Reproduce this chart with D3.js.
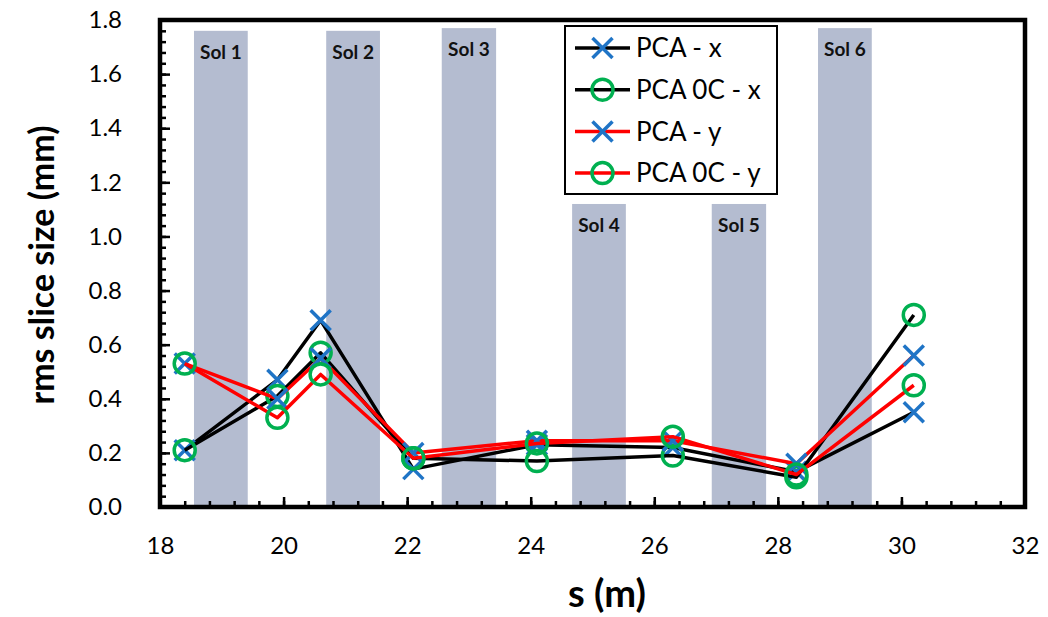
<!DOCTYPE html>
<html><head><meta charset="utf-8">
<script src="https://cdn.jsdelivr.net/npm/d3@7"></script>
<style>body{margin:0;background:#fff} text{font-family:Lato,"Noto Sans",sans-serif}</style>
</head><body><svg id="c" width="1048" height="617"></svg>
<script>
// ---- data ----
const s       = [18.4, 19.9, 20.6, 22.1, 24.1, 26.3, 28.3, 30.2];
const pcaX    = [0.21, 0.47, 0.69, 0.14, 0.23, 0.22, 0.13, 0.35];
const pca0cX  = [0.21, 0.41, 0.57, 0.18, 0.17, 0.19, 0.11, 0.71];
const pcaY    = [0.53, 0.40, 0.55, 0.20, 0.245, 0.245, 0.16, 0.56];
const pca0cY  = [0.53, 0.33, 0.49, 0.18, 0.235, 0.26, 0.12, 0.45];
const seriesNames = ["PCA - x", "PCA 0C - x", "PCA - y", "PCA 0C - y"];
const solLabels = ["Sol 1", "Sol 2", "Sol 3", "Sol 4", "Sol 5", "Sol 6"];
const solStart  = [18.55, 20.69, 22.56, 24.67, 26.93, 28.65];
const solEnd    = [19.42, 21.56, 23.44, 25.54, 27.81, 29.52];
const solTop    = [1.76, 1.76, 1.77, 1.12, 1.12, 1.77];
const xTicks = [18, 20, 22, 24, 26, 28, 30, 32];
const yTicks = [0, 0.2, 0.4, 0.6, 0.8, 1.0, 1.2, 1.4, 1.6, 1.8];

const series = [
  {name: seriesNames[0], values: pcaX,   line: "#000000", marker: "x"},
  {name: seriesNames[1], values: pca0cX, line: "#000000", marker: "o"},
  {name: seriesNames[2], values: pcaY,   line: "#ff0000", marker: "x"},
  {name: seriesNames[3], values: pca0cY, line: "#ff0000", marker: "o"}
];

const svg = d3.select("#c");
const L = 160, R = 1025, T = 20, B = 507;
const x = d3.scaleLinear().domain([18, 32]).range([L, R]);
const y = d3.scaleLinear().domain([0, 1.8]).range([B, T]);

// bands
const bands = svg.append("g");
solLabels.forEach((lab, i) => {
  bands.append("rect")
    .attr("x", x(solStart[i])).attr("width", x(solEnd[i]) - x(solStart[i]))
    .attr("y", y(solTop[i])).attr("height", y(0) - y(solTop[i]))
    .attr("fill", "#b4bcd0");
  bands.append("text")
    .attr("x", (x(solStart[i]) + x(solEnd[i])) / 2).attr("y", y(solTop[i]) + 28)
    .attr("text-anchor", "middle").attr("font-weight", "bold").attr("font-size", 19)
    .attr("fill", "#111").text(lab);
});

// minor ticks
const xMinor = d3.range(0, 36).map(i => 18 + i * 0.4);
const yMinor = d3.range(0, 46).map(i => i * 0.04);
svg.append("g").attr("transform", `translate(0,${B})`)
  .call(d3.axisBottom(x).tickValues(xMinor).tickSize(-6).tickFormat(""))
  .call(g => g.select(".domain").remove())
  .selectAll("line").attr("stroke", "#000").attr("stroke-width", 2.5);
svg.append("g").attr("transform", `translate(${L},0)`)
  .call(d3.axisLeft(y).tickValues(yMinor).tickSize(-6).tickFormat(""))
  .call(g => g.select(".domain").remove())
  .selectAll("line").attr("stroke", "#000").attr("stroke-width", 2.5);

// major axes
const gx = svg.append("g").attr("transform", `translate(0,${B})`)
  .call(d3.axisBottom(x).tickValues(xTicks).tickSize(-10).tickPadding(30).tickFormat(d3.format("d")));
gx.select(".domain").remove();
gx.selectAll("line").attr("stroke", "#000").attr("stroke-width", 2.5);
gx.selectAll("text").attr("font-size", 24).attr("fill", "#000").style("font-family", "Lato");

const gy = svg.append("g").attr("transform", `translate(${L},0)`)
  .call(d3.axisLeft(y).tickValues(yTicks).tickSize(-10).tickPadding(38).tickFormat(d3.format(".1f")));
gy.select(".domain").remove();
gy.selectAll("line").attr("stroke", "#000").attr("stroke-width", 2.5);
gy.selectAll("text").attr("font-size", 24).attr("fill", "#000").style("font-family", "Lato");

// frame
svg.append("rect").attr("x", L).attr("y", T).attr("width", R - L).attr("height", B - T)
  .attr("fill", "none").attr("stroke", "#000").attr("stroke-width", 4.5);

// series
const line = d3.line().x((d, i) => x(s[i])).y(d => y(d));
function drawMarker(g, type, cx, cy) {
  if (type === "x") {
    const h = 10;
    g.append("path").attr("d", `M${cx-h},${cy-h}L${cx+h},${cy+h}M${cx-h},${cy+h}L${cx+h},${cy-h}`)
      .attr("stroke", "#1f74c6").attr("stroke-width", 3.5).attr("fill", "none");
  } else {
    g.append("circle").attr("cx", cx).attr("cy", cy).attr("r", 10.5)
      .attr("stroke", "#00b050").attr("stroke-width", 3.5).attr("fill", "none");
  }
}
series.forEach(se => {
  const g = svg.append("g");
  g.append("path").attr("d", line(se.values)).attr("fill", "none")
    .attr("stroke", se.line).attr("stroke-width", 3.5).attr("stroke-linejoin", "round");
  se.values.forEach((v, i) => drawMarker(g, se.marker, x(s[i]), y(v)));
});

// legend
const lg = svg.append("g");
lg.append("rect").attr("x", 565).attr("y", 26).attr("width", 212).attr("height", 168)
  .attr("fill", "#fff").attr("stroke", "#000").attr("stroke-width", 2);
series.forEach((se, i) => {
  const ry = 48 + i * 41.7;
  lg.append("line").attr("x1", 575).attr("x2", 630).attr("y1", ry).attr("y2", ry)
    .attr("stroke", se.line).attr("stroke-width", 3.5);
  drawMarker(lg, se.marker, 602.5, ry);
  lg.append("text").attr("x", 636).attr("y", ry).attr("dy", "0.35em")
    .attr("font-size", 26).attr("fill", "#000").text(se.name);
});

// titles
svg.append("text").attr("transform", "translate(54,265) rotate(-90)")
  .attr("text-anchor", "middle").attr("font-weight", "bold").attr("font-size", 34)
  .text("rms slice size (mm)");
svg.append("text").attr("x", 607).attr("y", 607)
  .attr("text-anchor", "middle").attr("font-weight", "bold").attr("font-size", 38)
  .text("s (m)");
</script></body></html>
